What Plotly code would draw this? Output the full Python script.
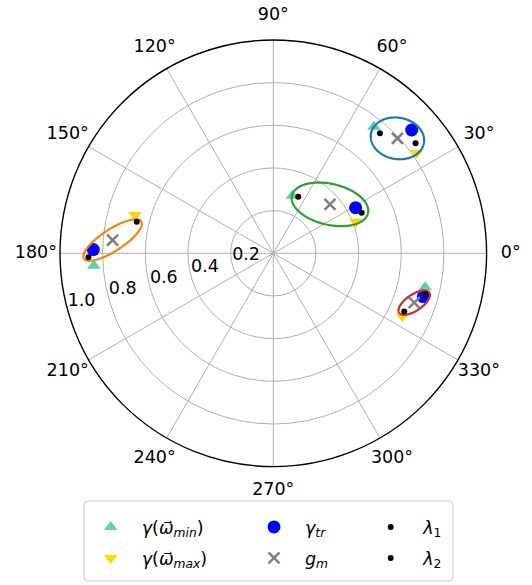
import numpy as np
import plotly.graph_objects as go

# ---- data (r, theta in degrees) for the four groups ----
group_colors = ["#1f77b4", "#2ca02c", "#ff7f0e", "#d62728"]

omega_min_r = [0.758, 0.284, 0.843, 0.729]
omega_min_t = [51.5, 71.7, 184.0, 347.4]
omega_max_r = [0.821, 0.414, 0.673, 0.674]
omega_max_t = [35.0, 21.0, 164.5, 334.0]
gamma_tr_r = [0.869, 0.441, 0.844, 0.732]
gamma_tr_t = [41.7, 29.0, 178.8, 343.9]
g_m_r = [0.793, 0.351, 0.756, 0.700]
g_m_t = [42.8, 40.8, 175.3, 340.7]
lambda1_r = [0.753, 0.290, 0.657, 0.739]
lambda1_t = [48.4, 66.2, 167.0, 345.0]
lambda2_r = [0.843, 0.456, 0.867, 0.672]
lambda2_t = [37.7, 24.7, 181.2, 336.0]

# ellipse semi-axes (radial units) and tilt (deg), centred on g_m
ell_a = [0.126, 0.183, 0.160, 0.085]
ell_b = [0.097, 0.096, 0.051, 0.038]
ell_tilt = [-10.0, -13.0, 33.0, 34.0]

radial_ticks = [0.2, 0.4, 0.6, 0.8, 1.0]
radial_label_angle = 195.4
angular_ticks = [0, 30, 60, 90, 120, 150, 180, 210, 240, 270, 300, 330]
angular_label_r = 1.113   # in units of the main radial axis

FONT = "DejaVu Sans"
FS = 17.5
W, H = 532, 585

fig = go.Figure()

fig.add_trace(go.Scatterpolar(
    r=omega_min_r, theta=omega_min_t, mode="markers",
    marker=dict(symbol="triangle-up", size=12, color="#66cdaa"),
    name="<i>γ</i>(<i>ω⃗</i><sub><i>min</i></sub>)", legend="legend"))
fig.add_trace(go.Scatterpolar(
    r=omega_max_r, theta=omega_max_t, mode="markers",
    marker=dict(symbol="triangle-down", size=12, color="#ffd700"),
    name="<i>γ</i>(<i>ω⃗</i><sub><i>max</i></sub>)", legend="legend2"))
fig.add_trace(go.Scatterpolar(
    r=gamma_tr_r, theta=gamma_tr_t, mode="markers",
    marker=dict(symbol="circle", size=13, color="#0000ff"),
    name="<i>γ</i><sub><i>tr</i></sub>", legend="legend3"))

# covariance ellipses
t = np.linspace(0, 2 * np.pi, 200)
for i in range(len(g_m_r)):
    cx = g_m_r[i] * np.cos(np.radians(g_m_t[i]))
    cy = g_m_r[i] * np.sin(np.radians(g_m_t[i]))
    ph = np.radians(ell_tilt[i])
    x = cx + ell_a[i] * np.cos(t) * np.cos(ph) - ell_b[i] * np.sin(t) * np.sin(ph)
    y = cy + ell_a[i] * np.cos(t) * np.sin(ph) + ell_b[i] * np.sin(t) * np.cos(ph)
    fig.add_trace(go.Scatterpolar(
        r=np.hypot(x, y), theta=np.degrees(np.arctan2(y, x)), mode="lines",
        line=dict(color=group_colors[i], width=2.2), showlegend=False,
        hoverinfo="skip"))

fig.add_trace(go.Scatterpolar(
    r=g_m_r, theta=g_m_t, mode="markers",
    marker=dict(symbol="x-thin-open", size=11, color="#808080",
                line=dict(width=2.6, color="#808080")),
    name="<i>g</i><sub><i>m</i></sub>", legend="legend4"))
fig.add_trace(go.Scatterpolar(
    r=lambda1_r, theta=lambda1_t, mode="markers",
    marker=dict(symbol="circle", size=6, color="black"),
    name="<i>λ</i><sub>1</sub>", legend="legend5"))
fig.add_trace(go.Scatterpolar(
    r=lambda2_r, theta=lambda2_t, mode="markers",
    marker=dict(symbol="circle", size=6, color="black"),
    name="<i>λ</i><sub>2</sub>", legend="legend6"))

# radial tick labels along one spoke
fig.add_trace(go.Scatterpolar(
    r=radial_ticks, theta=[radial_label_angle] * len(radial_ticks),
    mode="text", text=[f"{v:.1f}" for v in radial_ticks],
    textposition="top right", textfont=dict(size=FS, color="black", family=FONT),
    showlegend=False, hoverinfo="skip"))

cx_px, cy_px, R_px = 273.3, 253.3, 213.3
R2_px = 245.0   # wider, invisible polar frame that carries the angle labels

# angular tick labels centred just outside the rim
fig.add_trace(go.Scatterpolar(
    r=[angular_label_r * R_px / R2_px] * len(angular_ticks), theta=angular_ticks,
    mode="text", text=[f"{a}°" for a in angular_ticks], subplot="polar2",
    textposition="middle center", textfont=dict(size=FS, color="black", family=FONT),
    showlegend=False, hoverinfo="skip"))

fig.update_layout(
    width=W, height=H, margin=dict(l=0, r=0, t=0, b=0),
    paper_bgcolor="white", font=dict(family=FONT, size=FS, color="black"),
    polar=dict(
        domain=dict(x=[(cx_px - R_px) / W, (cx_px + R_px) / W],
                    y=[1 - (cy_px + R_px) / H, 1 - (cy_px - R_px) / H]),
        bgcolor="white",
        radialaxis=dict(range=[0, 1], tickvals=radial_ticks, showticklabels=False,
                        ticks="", showline=False, gridcolor="#b0b0b0", gridwidth=1),
        angularaxis=dict(rotation=0, direction="counterclockwise",
                         tickvals=angular_ticks, showticklabels=False, ticks="",
                         showline=True, linecolor="black", linewidth=1.4,
                         gridcolor="#b0b0b0", gridwidth=1),
    ),
    polar2=dict(
        domain=dict(x=[(cx_px - R2_px) / W, (cx_px + R2_px) / W],
                    y=[1 - (cy_px + R2_px) / H, 1 - (cy_px - R2_px) / H]),
        bgcolor="rgba(0,0,0,0)",
        radialaxis=dict(range=[0, 1], visible=False, showgrid=False),
        angularaxis=dict(rotation=0, direction="counterclockwise", visible=False,
                         showgrid=False, showline=False),
    ),
)

# legend: three columns of two entries each
leg_cols_px = [79.7, 243.0, 358.2]
leg_item_w = [52, 52, 55]
leg_rows_px = [527, 558]
legend_names = ["legend", "legend2", "legend3", "legend4", "legend5", "legend6"]
for k, name in enumerate(legend_names):
    col, row = k // 2, k % 2
    fig.update_layout({name: dict(
        x=leg_cols_px[col] / W, y=1 - leg_rows_px[row] / H,
        xanchor="left", yanchor="middle", bgcolor="rgba(0,0,0,0)",
        borderwidth=0, itemwidth=leg_item_w[col],
        font=dict(size=FS, family=FONT, color="black"))})

# legend frame with rounded corners
x0, x1, y0, y1 = 84 / W, 453 / W, 1 - 581 / H, 1 - 501 / H
rx, ry = 4 / W, 4 / H
frame = (f"M {x0 + rx} {y0} L {x1 - rx} {y0} Q {x1} {y0} {x1} {y0 + ry} "
         f"L {x1} {y1 - ry} Q {x1} {y1} {x1 - rx} {y1} L {x0 + rx} {y1} "
         f"Q {x0} {y1} {x0} {y1 - ry} L {x0} {y0 + ry} Q {x0} {y0} {x0 + rx} {y0} Z")
fig.add_shape(type="path", path=frame, xref="paper", yref="paper",
              line=dict(color="#cccccc", width=1), fillcolor="rgba(255,255,255,0.8)",
              layer="below")

fig.write_html("out.html")
